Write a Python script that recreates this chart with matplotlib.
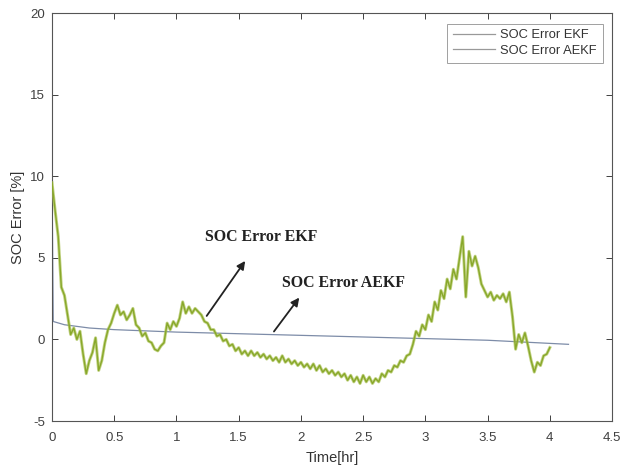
import numpy as np
import matplotlib
matplotlib.use("Agg")
import matplotlib.pyplot as plt
from matplotlib.lines import Line2D

# AEKF (noisy green) SOC error, sampled every 0.025 hr from 0 to 4.0 hr
aekf_err = [
    9.6, 7.9, 6.3, 3.2, 2.7, 1.5, 0.3, 0.7, 0.0, 0.5,
    -0.9, -2.1, -1.3, -0.8, 0.1, -1.9, -1.3, -0.2, 0.6, 1.0,
    1.6, 2.1, 1.5, 1.7, 1.2, 1.5, 1.9, 0.9, 0.7, 0.2,
    0.4, -0.1, -0.2, -0.6, -0.7, -0.4, -0.2, 1.0, 0.6, 1.1,
    0.8, 1.3, 2.3, 1.6, 2.0, 1.6, 1.9, 1.7, 1.5, 1.1,
    1.0, 0.6, 0.6, 0.2, 0.3, -0.1, 0.0, -0.4, -0.3, -0.7,
    -0.5, -0.9, -0.7, -1.0,
    -0.7, -1.0, -0.8, -1.1, -0.9, -1.2, -1.0, -1.3, -1.1, -1.4,
    -1.0, -1.4, -1.2, -1.5, -1.3, -1.6, -1.4, -1.7, -1.5, -1.8,
    -1.5, -1.9, -1.6, -2.0, -1.8, -2.1, -1.9, -2.2, -2.0, -2.3,
    -2.1, -2.5, -2.2, -2.6, -2.3, -2.7, -2.2, -2.6, -2.3, -2.7,
    -2.4, -2.6, -2.1, -2.3, -1.9, -2.0, -1.6, -1.7, -1.3, -1.4,
    -1.0, -0.9, -0.3, 0.5, 0.2, 0.9, 0.6, 1.5, 1.1, 2.3,
    1.8, 3.0, 2.5, 3.7, 3.1, 4.3, 3.7, 5.0, 6.3, 2.6,
    5.4, 4.5, 5.1, 4.4, 3.4, 3.0, 2.6, 2.9, 2.4, 2.7,
    2.5, 2.8, 2.3, 2.9, 1.4, -0.6, 0.3, -0.2, 0.4, -0.4,
    -1.3, -2.0, -1.4, -1.6, -1.0, -0.9, -0.5,
]
aekf_time = np.linspace(0.0, 4.0, len(aekf_err))

# EKF (smooth blue-gray) SOC error
ekf_time = [0.0, 0.01, 0.1, 0.3, 0.5, 1.0, 2.0, 3.0, 3.5, 4.15]
ekf_err = [10.0, 1.1, 0.9, 0.7, 0.6, 0.45, 0.25, 0.05, -0.05, -0.3]

x_ticks = [0, 0.5, 1, 1.5, 2, 2.5, 3, 3.5, 4, 4.5]
y_ticks = [-5, 0, 5, 10, 15, 20]

plt.rcParams['font.family'] = ['Liberation Sans', 'DejaVu Sans']
plt.rcParams['axes.unicode_minus'] = False

fig = plt.figure(figsize=(6.22, 4.68), dpi=100)
ax = fig.add_axes([0.0836, 0.1004, 0.9004, 0.8716])

ax.plot(ekf_time, ekf_err, color='#7d8ca8', lw=0.9, zorder=2)
ax.plot(aekf_time, aekf_err, color='#a8c050', lw=2.2, alpha=0.7, zorder=3)
ax.plot(aekf_time, aekf_err, color='#88a82a', lw=1.0, zorder=4)

ax.set_xlim(0, 4.5)
ax.set_ylim(-5, 20)
ax.set_xticks(x_ticks)
ax.set_xticklabels([f"{v:g}" for v in x_ticks])
ax.set_yticks(y_ticks)
ax.tick_params(direction='in', length=4, width=0.7, labelsize=9.5,
               colors='#404040', top=True, right=True)
ax.tick_params(axis='x', pad=8)
ax.tick_params(axis='y', pad=5)
for s in ax.spines.values():
    s.set_color('#555555')
    s.set_linewidth(0.8)
ax.set_xlabel('Time[hr]', fontsize=10.5, color='#333333', labelpad=5)
ax.set_ylabel('SOC Error [%]', fontsize=10.5, color='#333333', labelpad=4)

handles = [Line2D([], [], color='#999999', lw=0.9),
           Line2D([], [], color='#999999', lw=0.9)]
leg = ax.legend(handles, ['SOC Error EKF', 'SOC Error AEKF'], loc='upper right',
                fontsize=9.3, frameon=True, fancybox=False, handlelength=3.3,
                handletextpad=0.4, borderpad=0.45, labelspacing=0.25,
                bbox_to_anchor=(0.995, 0.99))
leg.get_frame().set_edgecolor('#888888')
leg.get_frame().set_linewidth(0.7)
for t in leg.get_texts():
    t.set_color('#333333')

ax.annotate('', xy=(1.565, 4.95), xytext=(1.23, 1.3),
            arrowprops=dict(arrowstyle='-|>', color='#222222', lw=1.3,
                            mutation_scale=12))
ax.annotate('', xy=(2.0, 2.7), xytext=(1.77, 0.35),
            arrowprops=dict(arrowstyle='-|>', color='#222222', lw=1.3,
                            mutation_scale=12))
ax.text(1.23, 6.3, 'SOC Error EKF', fontsize=11.4, fontweight='bold',
        family=['Liberation Serif', 'DejaVu Serif'], va='center', ha='left',
        color='#222222')
ax.text(1.85, 3.45, 'SOC Error AEKF', fontsize=11.4, fontweight='bold',
        family=['Liberation Serif', 'DejaVu Serif'], va='center', ha='left',
        color='#222222')

fig.savefig('out.png', dpi=100)
